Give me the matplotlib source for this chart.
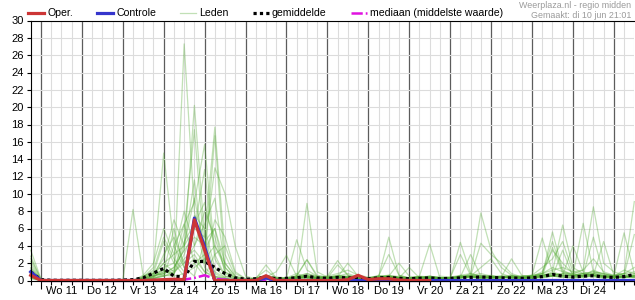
import matplotlib
matplotlib.use("Agg")
import matplotlib.pyplot as plt
import matplotlib.dates as mdates
import numpy as np
import pandas as pd

plt.rcParams['font.family'] = ['Liberation Sans', 'DejaVu Sans']

# 6-hourly steps, from di 10 jun 18:00 to wo 25 jun 12:00
times = pd.date_range('2025-06-10 18:00', periods=60, freq='6h')
day_mid = pd.date_range('2025-06-11 12:00', periods=14, freq='D')
day_labels = ['Wo 11', 'Do 12', 'Vr 13', 'Za 14', 'Zo 15', 'Ma 16', 'Di 17',
              'Wo 18', 'Do 19', 'Vr 20', 'Za 21', 'Zo 22', 'Ma 23', 'Di 24']

# ensemble members (mm per 6h)
leden = [
    [3.5, 0.2, 0, 0, 0, 0, 0, 0, 0, 0, 0, 0.3, 0.8, 1.2, 0.5, 27.3, 8.0, 1.5, 0.4, 0.1, 0,
     0, 0.2, 0.6, 0.3, 0.2, 0.4, 0.8, 0.5, 0.3, 0.6, 0.4, 0.2, 0.1, 0.3, 0.5, 0.3, 0.2, 0.1, 0.3, 0.2,
     0.4, 0.3, 0.8, 0.5, 0.6, 0.4, 0.3, 0.2, 0.5, 1.0, 3.5, 2.0, 0.8, 0.5, 1.2, 0.7, 0.5, 0.8, 1.5],
    [2.8, 0.1, 0, 0, 0, 0, 0, 0, 0, 0, 0, 0.2, 0.6, 0.8, 1.5, 3.5, 20.2, 5.0, 0.8, 0.2, 0,
     0, 0.3, 0.5, 0.2, 0.1, 0.6, 2.4, 0.6, 0.4, 0.5, 0.3, 0.2, 0.2, 0.5, 3.0, 0.6, 0.3, 0.2, 0.5, 0.3,
     0.2, 0.6, 0.4, 0.3, 0.3, 0.2, 0.6, 0.4, 0.3, 0.5, 1.0, 6.4, 1.5, 0.8, 0.6, 0.4, 0.3, 0.6, 5.3],
    [2.2, 0, 0, 0, 0, 0, 0, 0, 0, 0, 0, 0.4, 1.5, 14.7, 4.0, 1.5, 2.5, 1.0, 0.3, 0, 0,
     0, 0.1, 0.3, 0.2, 0.3, 0.8, 0.4, 0.3, 0.5, 2.3, 0.6, 0.3, 0.2, 0.4, 0.6, 0.4, 0.3, 0.5, 0.4, 0.3,
     0.2, 4.4, 0.8, 0.5, 0.4, 0.3, 0.5, 0.3, 0.6, 0.8, 1.5, 1.0, 0.6, 0.5, 0.8, 0.5, 0.4, 0.3, 0.6],
    [1.8, 0, 0, 0, 0, 0, 0, 0, 0, 0, 8.2, 0.5, 0.8, 2.0, 1.0, 5.5, 17.4, 3.0, 0.5, 0.2, 0,
     0, 0.2, 0.4, 0.3, 0.2, 0.3, 0.6, 0.4, 0.3, 0.4, 2.0, 0.5, 0.3, 0.2, 0.4, 0.3, 0.2, 0.5, 4.2, 0.3,
     0.3, 0.4, 0.5, 1.5, 2.5, 0.8, 0.4, 0.3, 0.2, 0.6, 5.6, 1.2, 0.6, 0.8, 0.4, 0.3, 0.5, 1.2, 0.8],
    [1.5, 0, 0, 0, 0, 0, 0, 0, 0, 0, 0, 0, 0.3, 1.5, 2.0, 6.5, 9.0, 15.7, 3.0, 0.5, 0.1,
     0, 0.2, 0.5, 0.4, 0.3, 4.7, 1.2, 0.5, 0.4, 0.6, 0.5, 0.3, 0.2, 0.3, 0.5, 0.3, 0.3, 0.4, 0.3, 0.5,
     0.4, 0.6, 0.8, 7.8, 3.5, 1.5, 0.6, 0.4, 0.5, 0.8, 4.5, 1.0, 0.8, 1.2, 8.5, 2.0, 1.0, 0.6, 0.8],
    [1.2, 0, 0, 0, 0, 0, 0, 0, 0, 0, 0, 0.5, 1.0, 0.5, 0.8, 3.0, 6.0, 5.0, 17.7, 3.0, 0.5,
     0.1, 0.3, 0.6, 0.2, 0.2, 0.5, 0.8, 0.4, 0.3, 1.8, 0.6, 0.4, 0.3, 0.5, 0.4, 0.3, 0.2, 0.3, 0.4, 0.3,
     0.3, 0.5, 0.6, 0.8, 0.5, 0.4, 2.5, 0.6, 0.4, 0.6, 0.8, 0.5, 0.6, 6.6, 1.0, 0.8, 0.5, 0.4, 0.6],
    [0.9, 0, 0, 0, 0, 0, 0, 0, 0, 0, 0, 0, 0.5, 1.2, 0.8, 4.0, 11.6, 2.0, 16.7, 1.0, 0.2,
     0, 0.1, 0.3, 0.2, 0.2, 0.4, 0.5, 0.3, 0.2, 0.3, 0.4, 0.3, 0.2, 0.6, 0.4, 0.3, 0.3, 0.2, 0.4, 0.3,
     0.3, 0.4, 3.0, 0.5, 0.3, 0.4, 0.3, 0.3, 0.4, 0.6, 0.5, 3.5, 0.5, 0.4, 0.6, 4.5, 0.6, 0.5, 0.4],
    [0.6, 0, 0, 0, 0, 0, 0, 0, 0, 0, 0, 0.3, 0.6, 2.0, 3.0, 4.0, 6.0, 12.8, 2.5, 0.5, 0.2,
     0, 0.1, 0.2, 0.1, 0.2, 0.3, 0.4, 0.3, 0.2, 0.5, 0.8, 0.4, 0.3, 0.4, 5.0, 0.6, 0.3, 0.2, 0.3, 0.2,
     0.2, 0.3, 0.5, 0.4, 0.3, 0.3, 0.4, 0.3, 0.3, 0.5, 0.6, 0.8, 0.5, 0.6, 0.8, 0.5, 0.4, 0.3, 0.5],
    [0.4, 0, 0, 0, 0, 0, 0, 0, 0, 0, 0, 0, 0.2, 0.8, 1.5, 3.5, 5.0, 4.0, 13.0, 10.0, 3.9,
     0.5, 0.2, 0.3, 0.2, 0.3, 0.5, 0.6, 0.3, 0.3, 0.4, 0.3, 0.2, 0.2, 0.3, 0.4, 0.5, 0.3, 0.4, 0.5, 0.3,
     0.3, 0.4, 0.5, 4.3, 3.0, 2.0, 0.8, 0.4, 0.5, 0.8, 0.6, 0.5, 0.6, 0.8, 1.0, 0.8, 0.6, 0.8, 9.1],
    [0.3, 0, 0, 0, 0, 0, 0, 0, 0, 0, 0, 0.1, 0.4, 3.0, 5.0, 2.0, 3.0, 1.0, 0.5, 0.2, 0,
     0, 0.1, 0.2, 0.1, 0.2, 0.3, 8.9, 1.0, 0.4, 0.3, 0.4, 0.3, 0.2, 0.3, 0.4, 0.3, 0.3, 0.4, 0.3, 0.2,
     0.3, 0.3, 0.5, 0.4, 0.4, 0.3, 0.4, 0.5, 0.6, 4.9, 1.0, 0.6, 0.5, 0.6, 0.8, 0.6, 0.5, 5.5, 0.8],
    [0.2, 0, 0, 0, 0, 0, 0, 0, 0, 0, 0, 0.2, 0.5, 1.0, 6.0, 1.5, 0.5, 4.5, 6.0, 2.0, 0.4,
     0.1, 0.2, 0.4, 1.0, 2.9, 0.5, 0.3, 0.2, 0.3, 0.5, 0.4, 0.3, 0.3, 0.4, 0.5, 2.0, 0.5, 0.3, 0.4, 0.3,
     0.3, 0.4, 0.5, 0.3, 0.4, 0.5, 0.4, 0.3, 0.3, 0.4, 0.5, 0.6, 4.0, 1.0, 0.6, 0.5, 0.4, 0.6, 0.5],
    [1.0, 0, 0, 0, 0, 0, 0, 0, 0, 0, 0, 0.3, 0.8, 4.5, 2.0, 0.5, 7.5, 6.0, 1.5, 0.3, 0,
     0, 0.2, 1.8, 0.3, 0.2, 0.3, 0.5, 0.3, 0.2, 0.3, 0.2, 0.3, 0.2, 0.3, 0.3, 0.2, 0.2, 0.3, 0.2, 0.3,
     0.2, 0.3, 0.4, 0.3, 0.3, 0.4, 0.3, 0.2, 0.3, 0.3, 0.5, 0.4, 0.3, 0.4, 0.5, 0.3, 0.3, 0.4, 0.3],
    [2.5, 0.2, 0, 0, 0, 0, 0, 0, 0, 0, 0, 0, 0.3, 0.5, 1.0, 2.0, 4.0, 8.0, 5.0, 1.0, 0.3,
     0.1, 0.2, 0.3, 0.2, 0.2, 0.4, 0.3, 0.3, 0.5, 0.8, 1.2, 0.6, 0.4, 0.5, 0.6, 0.4, 0.3, 0.4, 0.3, 0.3,
     0.3, 0.5, 0.6, 0.5, 0.4, 0.5, 0.4, 0.5, 0.6, 1.5, 2.5, 4.5, 1.0, 0.8, 1.0, 0.6, 0.5, 0.8, 0.6],
    [0.8, 0, 0, 0, 0, 0, 0, 0, 0, 0, 0, 0.1, 0.2, 0.5, 4.0, 6.5, 2.0, 0.5, 3.0, 4.0, 0.8,
     0.2, 0.1, 0.2, 0.1, 0.1, 0.2, 0.3, 0.2, 0.2, 0.3, 0.2, 0.2, 0.2, 0.3, 0.4, 0.3, 1.5, 0.3, 0.5, 0.3,
     0.3, 0.4, 0.3, 0.3, 0.3, 0.3, 0.4, 0.3, 0.4, 0.5, 0.6, 0.8, 0.8, 0.6, 5.0, 0.8, 0.5, 0.4, 0.5],
    [0.5, 0, 0, 0, 0, 0, 0, 0, 0, 0, 0, 0.2, 0.4, 1.0, 0.8, 2.5, 3.5, 2.0, 7.0, 5.0, 1.0,
     0.2, 0.1, 0.3, 0.2, 0.2, 0.3, 0.4, 0.3, 0.2, 0.4, 0.3, 0.2, 0.2, 0.3, 0.3, 0.3, 0.2, 0.3, 0.3, 0.2,
     0.3, 0.4, 0.5, 0.4, 0.4, 0.5, 0.6, 0.4, 0.5, 0.6, 0.8, 0.6, 0.5, 0.6, 0.8, 0.5, 0.4, 0.5, 0.6],
    [0.7, 0, 0, 0, 0, 0, 0, 0, 0, 0, 0, 0.4, 1.2, 5.0, 2.5, 1.0, 2.0, 3.0, 1.0, 0.3, 0,
     0, 0.2, 0.4, 0.2, 0.2, 0.3, 0.5, 0.4, 0.3, 0.5, 0.4, 0.3, 0.2, 0.4, 0.5, 0.3, 0.2, 0.3, 0.4, 0.3,
     0.3, 0.4, 0.5, 0.6, 0.5, 0.4, 0.5, 0.3, 0.4, 0.8, 1.2, 1.5, 1.0, 1.2, 2.5, 1.0, 0.6, 0.8, 1.0],
    [0.3, 0, 0, 0, 0, 0, 0, 0, 0, 0, 0, 0, 0.2, 0.6, 0.5, 0.8, 1.5, 2.5, 4.0, 2.0, 0.5,
     0.1, 0, 0.1, 0.1, 0.1, 0.2, 0.3, 0.2, 0.2, 0.2, 0.3, 0.2, 0.1, 0.2, 0.2, 0.2, 0.2, 0.3, 0.2, 0.2,
     0.2, 0.3, 0.4, 0.3, 0.3, 0.4, 0.3, 0.3, 0.3, 0.4, 0.5, 0.4, 0.4, 0.5, 0.6, 0.5, 0.4, 0.5, 0.4],
    [1.4, 0.1, 0, 0, 0, 0, 0, 0, 0, 0, 0, 0.2, 0.5, 0.8, 1.2, 4.5, 6.5, 9.0, 4.0, 1.5, 0.3,
     0, 0.3, 1.2, 0.3, 0.3, 0.5, 2.4, 0.4, 0.3, 0.4, 0.3, 0.3, 0.2, 0.3, 0.4, 0.3, 0.2, 0.4, 0.3, 0.2,
     0.3, 0.5, 0.4, 0.3, 0.4, 0.3, 0.4, 0.5, 0.5, 0.6, 0.8, 0.6, 0.6, 0.8, 0.6, 0.5, 0.4, 0.5, 0.4],
    [1.0, 0, 0, 0, 0, 0, 0, 0, 0, 0, 0, 0.6, 2.0, 6.0, 3.0, 8.0, 4.0, 6.5, 9.5, 1.5, 0.2,
     0, 0.2, 0.3, 0.2, 0.2, 0.3, 0.4, 0.3, 0.3, 0.4, 0.3, 0.2, 0.3, 0.4, 0.5, 0.3, 0.3, 0.4, 0.3, 0.2,
     0.3, 3.0, 0.6, 0.4, 0.5, 0.4, 0.3, 0.3, 0.4, 0.5, 3.8, 0.8, 0.6, 0.5, 0.6, 0.4, 0.3, 0.5, 0.4],
    [0.5, 0, 0, 0, 0, 0, 0, 0, 0, 0, 0, 0.2, 0.8, 2.5, 7.0, 4.0, 9.5, 3.5, 6.0, 0.8, 0.1,
     0, 0.1, 0.2, 0.1, 0.1, 0.3, 0.4, 0.2, 0.2, 0.3, 0.4, 0.3, 0.2, 0.3, 0.3, 0.2, 0.2, 0.3, 0.2, 0.2,
     0.2, 0.3, 0.4, 0.3, 0.3, 0.4, 0.3, 0.3, 0.3, 0.4, 0.5, 0.4, 0.3, 0.4, 0.5, 0.4, 0.3, 0.4, 0.4],
]

gemiddelde = [1.0, 0.1, 0.03, 0.02, 0.03, 0.02, 0.02, 0.02, 0.03, 0.05, 0.1, 0.3, 0.85,
              1.4, 0.5, 0.4, 2.2, 2.2, 1.5, 0.8, 0.3,
              0.15, 0.2, 0.4, 0.2, 0.25, 0.3, 0.5, 0.3, 0.25, 0.35, 0.3, 0.25, 0.2, 0.3, 0.35, 0.25,
              0.2, 0.25, 0.3, 0.2,
              0.25, 0.3, 0.35, 0.4, 0.35, 0.3, 0.3, 0.25, 0.3, 0.45, 0.7, 0.5, 0.4, 0.5, 0.55, 0.4,
              0.35, 0.45, 0.7]

mediaan = [0.9, 0, 0, 0, 0, 0, 0, 0, 0, 0, 0, 0, 0, 0, 0, 0.1, 0.3, 0.6, 0.2, 0.1, 0,
           0, 0, 0, 0, 0, 0, 0, 0, 0, 0, 0, 0, 0, 0, 0, 0, 0, 0, 0, 0,
           0, 0, 0, 0, 0, 0, 0, 0, 0, 0, 0, 0, 0, 0, 0, 0, 0, 0, 0]

controle = [1.0, 0, 0, 0, 0, 0, 0, 0, 0, 0, 0, 0, 0, 0, 0, 0, 7.2, 3.9, 0, 0, 0,
            0, 0, 0.3, 0, 0, 0, 0, 0, 0, 0, 0, 0, 0, 0, 0, 0, 0, 0, 0, 0,
            0, 0, 0, 0, 0, 0, 0, 0, 0, 0, 0, 0, 0, 0, 0, 0, 0, 0, 0]

# operational run stops at vr 20 12:00
oper = [0.6, 0, 0, 0, 0, 0, 0, 0, 0, 0, 0, 0, 0.05, 0.1, 0.15, 0.1, 7.0, 3.5, 0, 0, 0,
        0, 0, 0.55, 0, 0, 0, 0, 0, 0, 0, 0.1, 0.6, 0.1, 0.2, 0.2, 0.05, 0, 0, 0]

for m in leden:
    assert len(m) == 60, len(m)

fig = plt.figure(figsize=(6.35, 3.0), dpi=100)
ax = fig.add_axes([30.7 / 635, 19.5 / 300, 603.6 / 635, 260 / 300])

for k, m in enumerate(leden):
    ax.plot(times, m, color='#4fa82e', alpha=0.35, lw=0.9, clip_on=False,
            label='Leden' if k == 0 else None)
ax.plot(times, gemiddelde, color='black', lw=2.3, ls=(0, (1, 1)),
        dash_capstyle='butt', clip_on=False, label='gemiddelde')
ax.plot(times, mediaan, color='#e012e0', lw=1.8, ls=(0, (4.5, 1.2, 0.7, 1.2)),
        clip_on=False, label='mediaan (middelste waarde)')
ax.plot(times, controle, color='#3535cc', lw=2.3, clip_on=False, label='Controle')
ax.plot(times[:len(oper)], oper, color='#cc3535', lw=2.3, clip_on=False, label='Oper.')

ax.set_xlim(times[0], times[-1])
ax.set_ylim(0, 30)
ax.set_yticks(np.arange(0, 31, 2))

ax.xaxis.set_major_locator(mdates.DayLocator())
ax.xaxis.set_minor_locator(mdates.HourLocator(byhour=[0, 6, 12, 18]))
ax.set_axisbelow(True)
ax.grid(True, which='minor', axis='x', color='#dcdcdc', lw=0.8)
ax.grid(True, which='major', axis='x', color='#5c5c5c', lw=0.9)
ax.grid(True, which='major', axis='y', color='#dcdcdc', lw=0.8)

ax.tick_params(axis='x', which='major', length=5.5, width=0.8, labelbottom=False)
ax.tick_params(axis='x', which='minor', length=3, width=0.8)
ax.tick_params(axis='y', length=3, width=0.8, pad=2, labelsize=8)

for x, lab in zip(day_mid, day_labels):
    ax.text(x, -0.04, lab, transform=ax.get_xaxis_transform(),
            ha='center', va='center', fontsize=8)

ax.spines['right'].set_visible(False)
for s in ['left', 'top', 'bottom']:
    ax.spines[s].set_linewidth(0.8)

h, l = ax.get_legend_handles_labels()
order = ['Oper.', 'Controle', 'Leden', 'gemiddelde', 'mediaan (middelste waarde)']
hs = [h[l.index(o)] for o in order]
fig.legend(hs, order, loc='center left', bbox_to_anchor=(28 / 635, 1 - 13.5 / 300),
           ncol=5, frameon=False, fontsize=7.6, borderpad=0, borderaxespad=0,
           handlelength=1.5, handletextpad=0.3, columnspacing=2.3)

fig.text(631 / 635, 1 - 5.5 / 300, 'Weerplaza.nl - regio midden', ha='right', va='center',
         fontsize=6.4, color='#9a9a9a')
fig.text(631 / 635, 1 - 15 / 300, 'Gemaakt: di 10 jun 21:01', ha='right', va='center',
         fontsize=6.4, color='#9a9a9a')

fig.savefig('out.png', dpi=100)
